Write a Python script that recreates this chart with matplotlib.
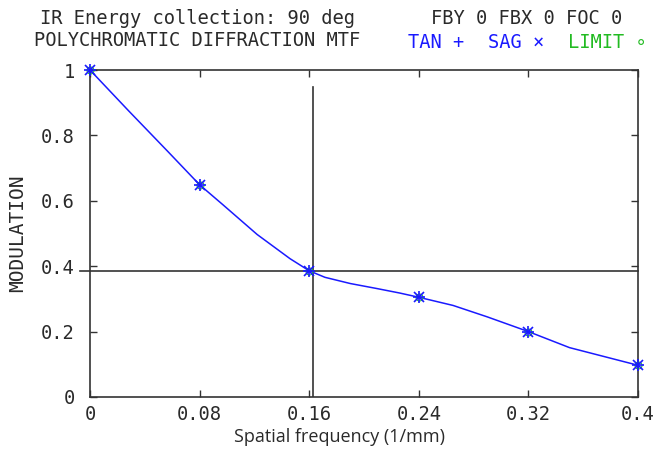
import matplotlib
matplotlib.use("Agg")
import matplotlib.pyplot as plt

# data
freq_pts = [0.0, 0.08, 0.16, 0.24, 0.32, 0.40]
mtf_pts = [1.0, 0.649, 0.386, 0.305, 0.200, 0.097]
curve_x = [0.0, 0.028, 0.057, 0.08, 0.097, 0.122, 0.146, 0.16, 0.1715, 0.19, 0.209, 0.226, 0.24, 0.265, 0.29, 0.32, 0.35, 0.40]
curve_y = [1.0, 0.876, 0.750, 0.649, 0.588, 0.497, 0.423, 0.386, 0.366, 0.347, 0.332, 0.318, 0.305, 0.280, 0.245, 0.200, 0.151, 0.097]
cross_x = 0.163
cross_y = 0.385
cross_top = 0.948
xticks = [0, 0.08, 0.16, 0.24, 0.32, 0.4]
xticklabels = ["0", "0.08", "0.16", "0.24", "0.32", "0.4"]
yticks = [0, 0.2, 0.4, 0.6, 0.8, 1.0]
yticklabels = ["0", "0.2", "0.4", "0.6", "0.8", "1"]

BLUE = "#1a1aff"
GREEN = "#22bb22"
DARK = "#2a2a2a"
mono = ["DejaVu Sans Mono", "DejaVu Sans"]
FS = 13.5

fig = plt.figure(figsize=(6.57, 4.51), dpi=100)
ax = fig.add_axes([90/657, 1-397/451, 548/657, 327/451])
ax.set_xlim(0, 0.4)
ax.set_ylim(0, 1)

ax.plot(curve_x, curve_y, color=BLUE, lw=1.1, zorder=3)
ax.plot([cross_x, cross_x], [0, cross_top], color="#333333", lw=1.2, zorder=2)
ax.plot([-0.007, 0.4], [cross_y, cross_y], color="#333333", lw=1.2, zorder=2, clip_on=False)
ax.plot(freq_pts, mtf_pts, ls="none", marker="o", ms=5, mfc="none", mec="#22cc22", mew=0.8, zorder=4, clip_on=False)
ax.plot(freq_pts, mtf_pts, ls="none", marker="+", ms=9, color=BLUE, mew=1.2, zorder=5, clip_on=False)
ax.plot(freq_pts, mtf_pts, ls="none", marker="x", ms=7, color=BLUE, mew=1.2, zorder=5, clip_on=False)

ax.set_xticks(xticks)
ax.set_xticklabels(xticklabels, family=mono, fontsize=FS, color=DARK)
ax.set_yticks(yticks)
ax.set_yticklabels(yticklabels, family=mono, fontsize=FS, color=DARK)
ax.tick_params(direction="in", length=5, width=1, color="#333333", top=True, right=True)
ax.tick_params(axis="y", pad=11)
ax.tick_params(axis="x", pad=6)
for s in ax.spines.values():
    s.set_color("#333333")
    s.set_linewidth(1.2)

fig.text(340/657, 1-437/451, "Spatial frequency (1/mm)", ha="center", va="center",
         family="Open Sans", fontsize=13, color=DARK)
fig.text(18/657, 1-233/451, "MODULATION", rotation=90, ha="center", va="center",
         family=mono, fontsize=14, color=DARK)

fig.text(197/657, 1-18/451, "IR Energy collection: 90 deg", ha="center", va="center",
         family=mono, fontsize=FS, color=DARK)
fig.text(197/657, 1-41/451, "POLYCHROMATIC DIFFRACTION MTF", ha="center", va="center",
         family=mono, fontsize=FS, color=DARK)
fig.text(527/657, 1-19/451, "FBY 0 FBX 0 FOC 0", ha="center", va="center",
         family=mono, fontsize=FS, color=DARK)
fig.text(408/657, 1-43/451, "TAN +", ha="left", va="center", family=mono, fontsize=FS, color=BLUE)
fig.text(488/657, 1-43/451, "SAG \u00d7", ha="left", va="center", family=mono, fontsize=FS, color=BLUE)
fig.text(568/657, 1-43/451, "LIMIT \u2218", ha="left", va="center", family=mono, fontsize=FS, color=GREEN)

fig.savefig("out.png", dpi=100)
